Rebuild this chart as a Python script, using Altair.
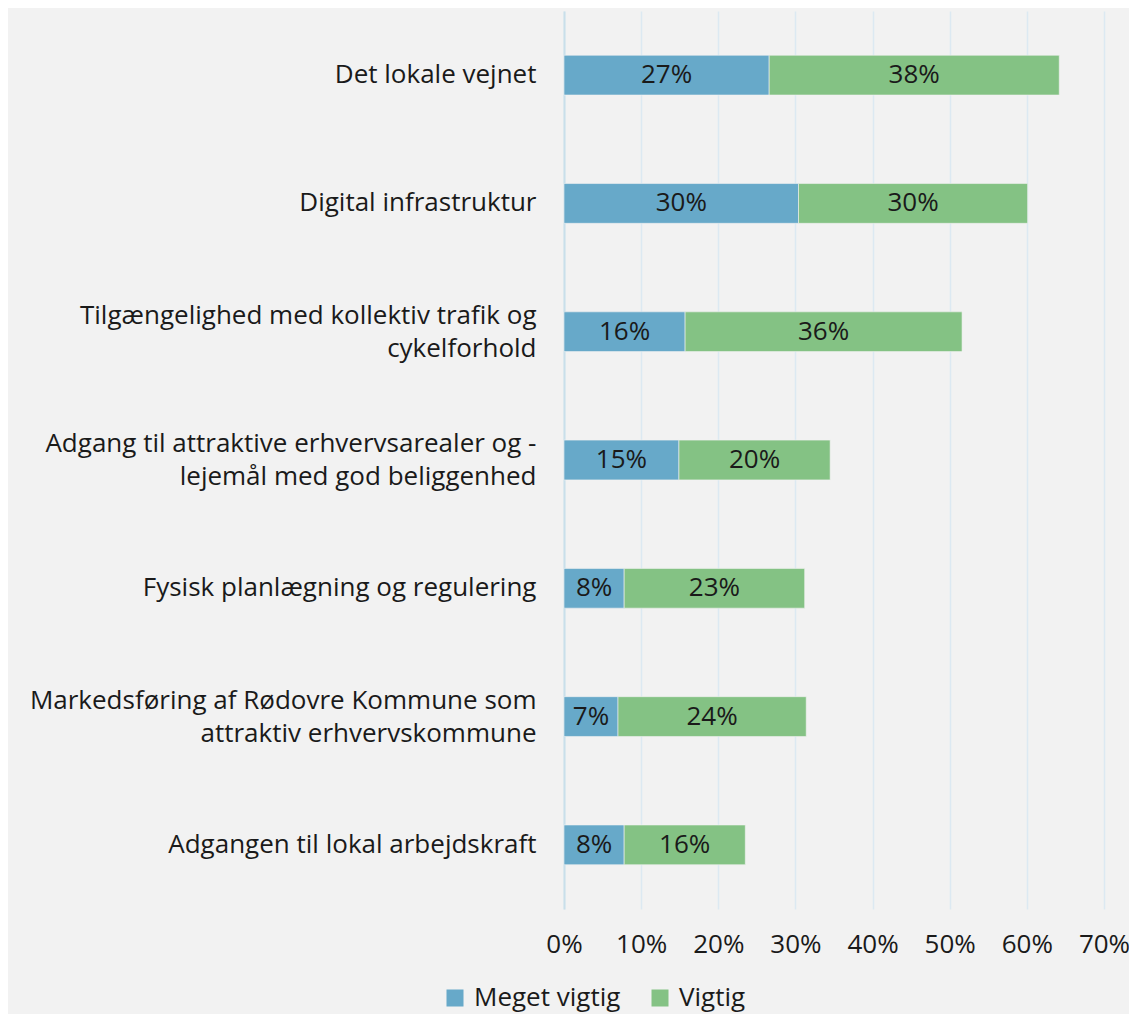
import altair as alt
import pandas as pd

categories = [
    "Det lokale vejnet",
    "Digital infrastruktur",
    "Tilgængelighed med kollektiv trafik og|cykelforhold",
    "Adgang til attraktive erhvervsarealer og -|lejemål med god beliggenhed",
    "Fysisk planlægning og regulering ",
    "Markedsføring af Rødovre Kommune som|attraktiv erhvervskommune",
    "Adgangen til lokal arbejdskraft",
]
meget_vigtig = [26.6, 30.4, 15.7, 14.9, 7.8, 7.0, 7.8]
vigtig = [37.6, 29.7, 35.9, 19.6, 23.4, 24.4, 15.7]
series = ["Meget vigtig", "Vigtig"]
colors = ["#67a9c9", "#84c284"]

rows = []
for c, a, b in zip(categories, meget_vigtig, vigtig):
    rows.append({"cat": c, "serie": series[0], "order": 0, "value": a})
    rows.append({"cat": c, "serie": series[1], "order": 1, "value": b})
df = pd.DataFrame(rows)

FONT = "Open Sans"
TXT = "#1a1a1a"
FS = 26

base = alt.Chart(df).transform_stack(
    stack="value", groupby=["cat"], as_=["x0", "x1"],
    sort=[alt.SortField("order", order="ascending")]
).transform_calculate(
    mid="(datum.x0 + datum.x1) / 2",
    lbl="format(round(datum.value), 'd') + '%'"
)

y_enc = alt.Y(
    "cat:N", sort=categories, title=None,
    scale=alt.Scale(paddingInner=0.69, paddingOuter=0.345),
    axis=alt.Axis(
        labelExpr="split(datum.label, '|')",
        labelFont=FONT, labelFontSize=FS, labelColor=TXT,
        labelLineHeight=33, labelPadding=28, ticks=False,
        labelOffset={"condition": {"test": "indexof(datum.value, '|') >= 0", "value": -16}, "value": 0},
        domain=True, domainColor="#c9dfea", domainWidth=2,
        labelLimit=600,
    ),
)

bars = base.mark_bar(stroke="#f2f2f2", strokeWidth=0.6).encode(
    x=alt.X(
        "x0:Q", title=None,
        scale=alt.Scale(domain=[0, 70], nice=False),
        axis=alt.Axis(
            values=[0, 10, 20, 30, 40, 50, 60, 70],
            labelExpr="datum.value + '%'",
            labelFont=FONT, labelFontSize=FS, labelColor=TXT,
            labelPadding=22, ticks=False, domain=False, labelFlush=False,
            grid=True, gridColor="#dce9f2", gridWidth=1.5,
        ),
    ),
    x2="x1:Q",
    y=y_enc,
    color=alt.Color(
        "serie:N", sort=series,
        scale=alt.Scale(domain=series, range=colors),
        legend=alt.Legend(
            title=None, orient="none", direction="horizontal",
            legendX=-122, legendY=974,
            symbolType="square", symbolSize=289, symbolStrokeWidth=0,
            labelFont=FONT, labelFontSize=FS, labelColor=TXT,
            labelOffset=6, columnPadding=26,
        ),
    ),
)

labels = base.mark_text(font=FONT, fontSize=FS, color=TXT, baseline="middle", align="center").encode(
    x="mid:Q",
    y=alt.Y("cat:N", sort=categories),
    text="lbl:N",
)

chart = alt.layer(bars, labels).properties(
    width=540, height=898,
    autosize="none",
    padding={"left": 556, "top": 3, "right": 25, "bottom": 105},
    background="#f2f2f2",
).configure_view(stroke=None)

chart.save("out.html", embed_options={"renderer": "svg", "actions": False})
